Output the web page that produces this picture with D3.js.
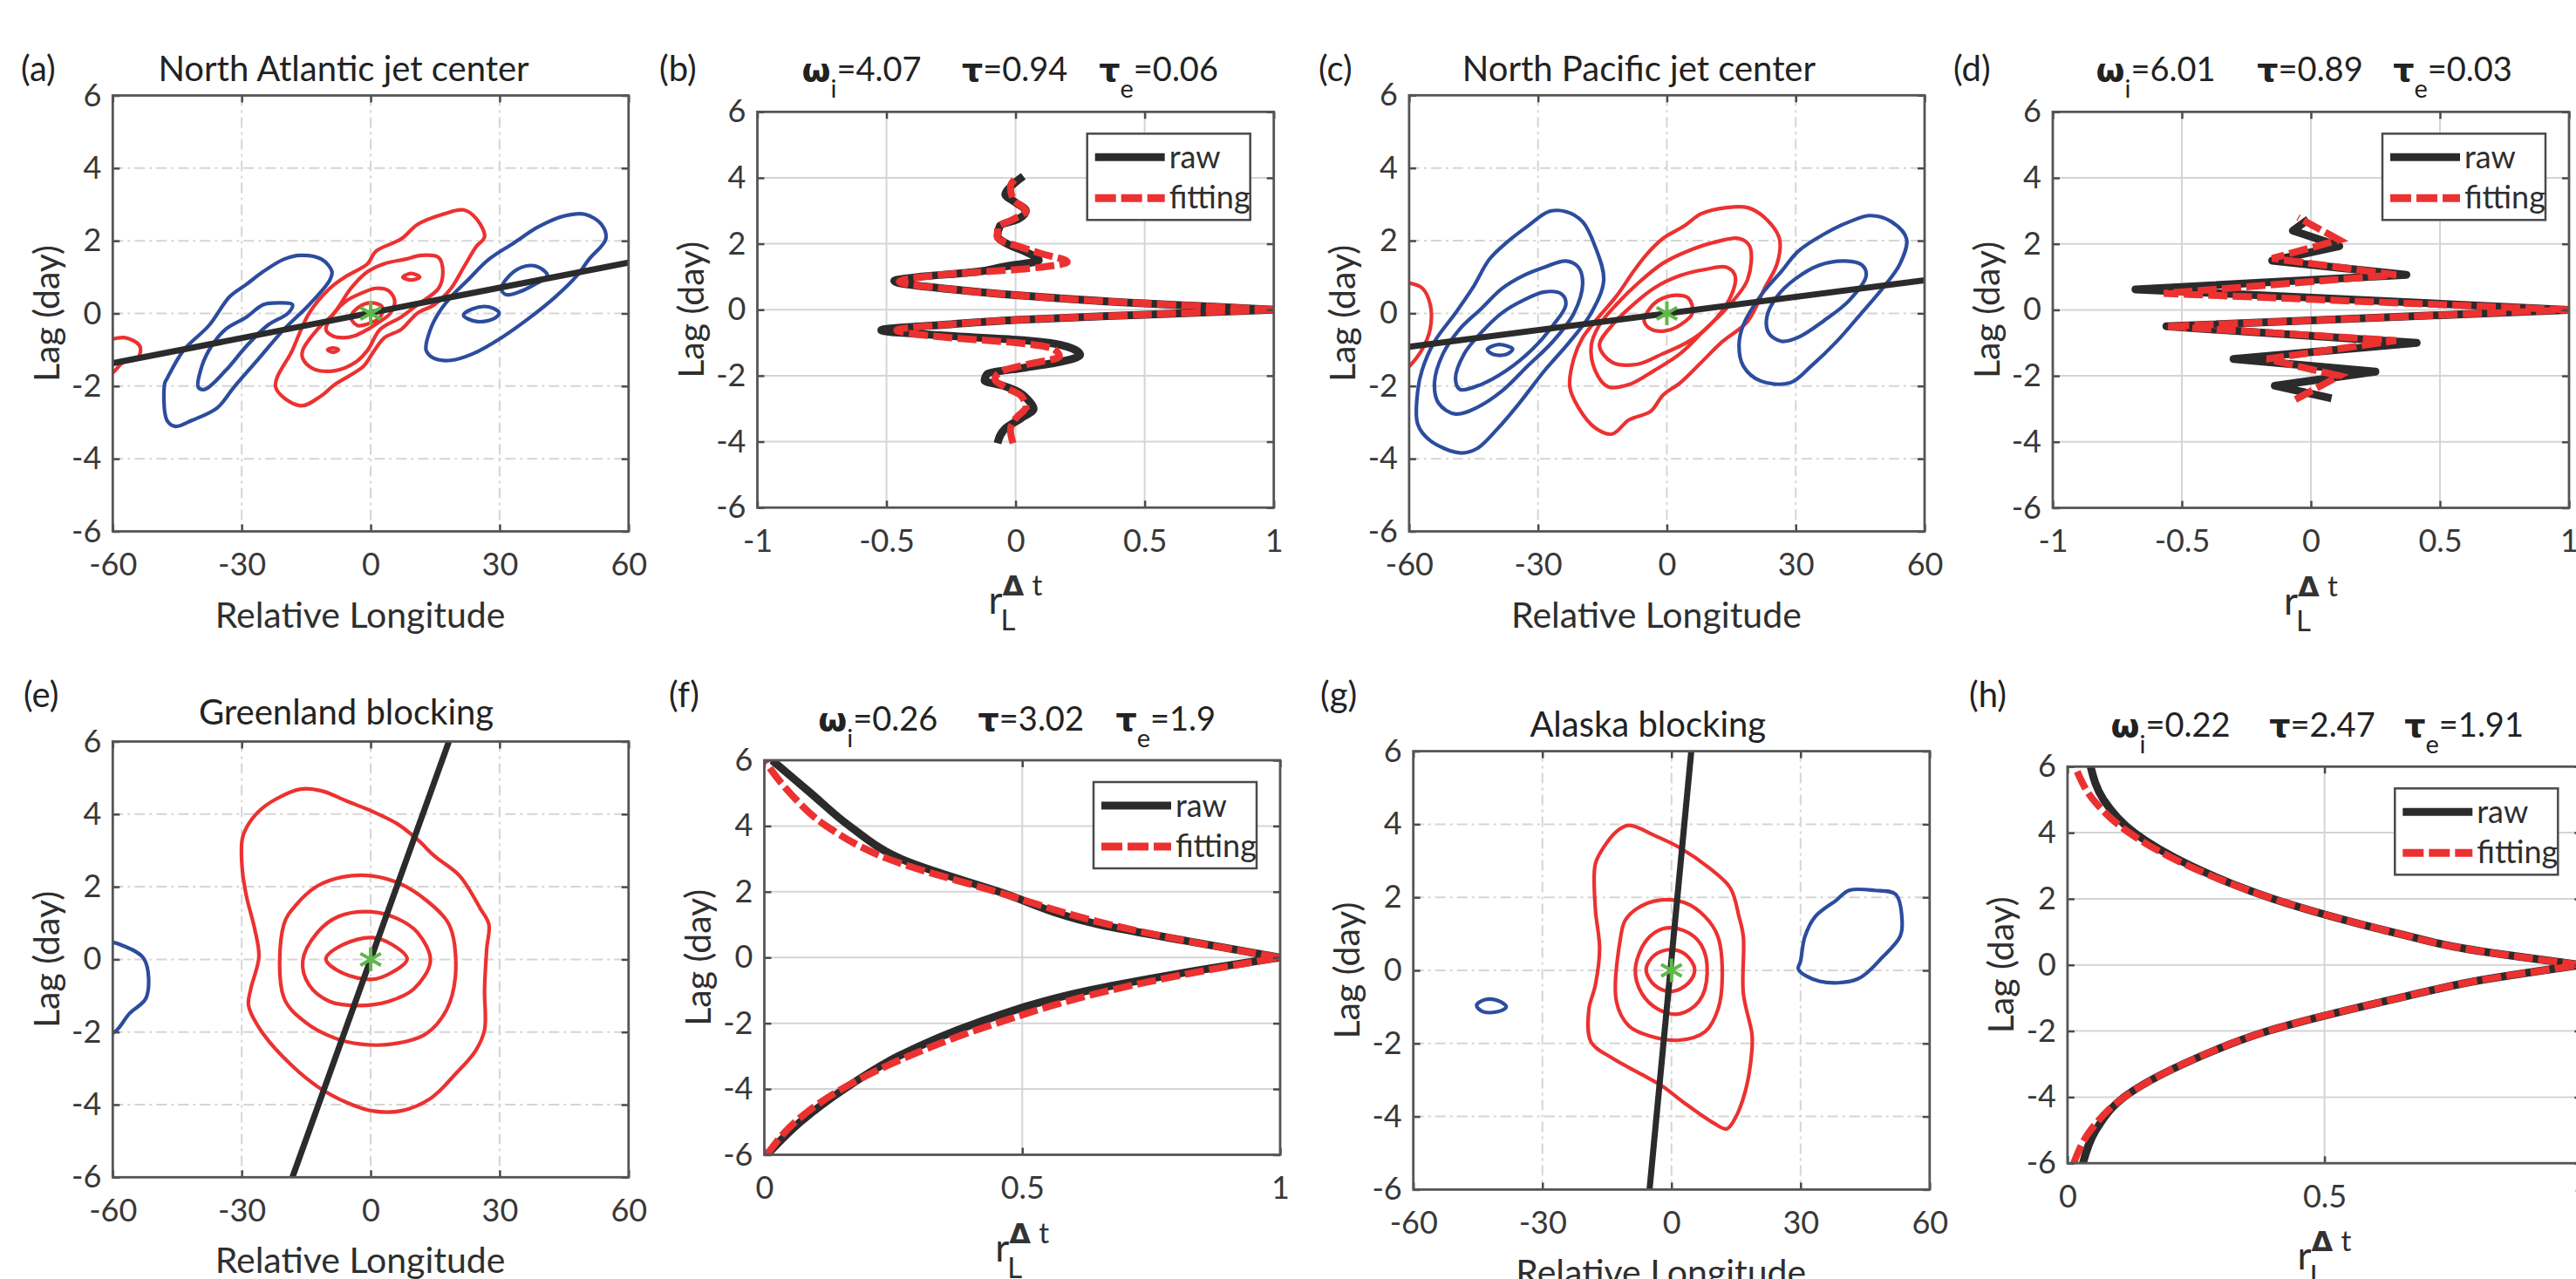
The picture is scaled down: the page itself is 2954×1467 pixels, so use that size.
<!DOCTYPE html>
<html lang="en">
<head>
<meta charset="utf-8">
<title>Lagged correlation of jets and blocking</title>
<script src="https://cdn.jsdelivr.net/npm/d3@7/dist/d3.min.js"></script>
<style>
  body { margin:0; background:#fff; overflow:hidden; }
  text { font-family: Lato, "Open Sans", sans-serif; fill:#2e2e2e; }
  .greek { font-family: "DejaVu Sans", sans-serif; font-weight:bold; fill:#222; }
</style>
</head>
<body>
<script>
// ---- values ----
var panelLetters = ["(a)", "(b)", "(c)", "(d)", "(e)", "(f)", "(g)", "(h)"];
var mapTitles = ["North Atlantic jet center", "North Pacific jet center", "Greenland blocking", "Alaska blocking"];
var lonTicks = [-60, -30, 0, 30, 60];
var lagTicks = [-6, -4, -2, 0, 2, 4, 6];
var rTicksWide = [-1, -0.5, 0, 0.5, 1];
var rTicksHalf = [0, 0.5, 1];
var omegaI = ["4.07", "6.01", "0.26", "0.22"];
var tauVals = ["0.94", "0.89", "3.02", "2.47"];
var tauE = ["0.06", "0.03", "1.9", "1.91"];
var legendNames = ["raw", "fitting"];

// contours, points are [relative longitude, lag]
var atlPos = [
  [[-22.1,-2.03],[-18.2,-1.01],[-14.3,0.01],[-9.5,0.69],[-5.6,1.03],[-0.7,1.37],[1.2,1.71],[7.1,2.05],[10.9,2.45],[16.8,2.73],[21.6,2.85],[24.5,2.62],[26.5,2.11],[24.5,1.83],[21.6,1.26],[18.7,0.69],[14.8,0.24],[10.9,0.01],[7.1,-0.44],[3.2,-0.67],[0.3,-1.12],[-1.7,-1.46],[-8.5,-1.97],[-11.4,-2.26],[-16.3,-2.54]],
  [[-15.8,-1.01],[-12.4,-0.44],[-8.5,0.01],[-4.6,0.69],[-0.7,1.15],[3.2,1.37],[8.0,1.49],[11.9,1.6],[15.8,1.54],[16.8,1.15],[15.8,0.69],[10.9,0.24],[7.1,-0.1],[2.2,-0.44],[-0.7,-1.01],[-3.6,-1.35],[-8.5,-1.58],[-13.4,-1.52],[-15.8,-1.24]],
  [[-10.4,-0.44],[-8.5,0.01],[-5.6,0.35],[-1.7,0.58],[1.2,0.69],[4.1,0.63],[5.6,0.35],[4.6,0.01],[2.2,-0.22],[-0.7,-0.44],[-3.6,-0.61],[-6.5,-0.67],[-9.0,-0.61]],
  [[-4.6,-0.1],[-2.7,0.18],[0.3,0.29],[2.7,0.18],[2.2,-0.1],[-0.2,-0.27],[-3.1,-0.33]],
  [[7.5,1.0],[9.4,1.1],[11.4,1.0],[9.4,0.92]],
  [[-10,-1.0],[-8.7,-0.95],[-7.5,-1.0],[-8.7,-1.07]]
];
var atlPosOpen = [
  [[-61,-0.74],[-57.1,-0.67],[-53.7,-0.9],[-54.2,-1.24],[-57.6,-1.35],[-59.5,-1.58],[-61,-1.75]]
];
var atlNeg = [
  [[-47.9,-1.92],[-47.4,-2.94],[-45.4,-3.11],[-41.5,-2.94],[-35.7,-2.6],[-31.8,-2.03],[-26.0,-1.24],[-20.2,-0.44],[-14.3,0.24],[-9.5,0.92],[-9.0,1.15],[-11.4,1.49],[-16.3,1.6],[-20.2,1.49],[-25.0,1.15],[-28.9,0.8],[-32.8,0.46],[-37.6,-0.33],[-43.5,-1.01],[-47.4,-1.8]],
  [[-40.1,-2.03],[-38.6,-2.09],[-33.8,-1.58],[-28.9,-0.9],[-24.0,-0.33],[-19.2,0.01],[-18.2,0.24],[-21.1,0.29],[-25.0,0.24],[-28.9,-0.1],[-33.8,-0.44],[-37.6,-1.01],[-39.6,-1.58]],
  [[12.9,-1.01],[14.8,-1.24],[18.7,-1.29],[23.6,-1.12],[30.4,-0.67],[37.2,-0.1],[43.0,0.46],[47.9,1.03],[50.8,1.49],[54.7,2.05],[53.7,2.45],[49.8,2.73],[45.0,2.68],[39.1,2.39],[33.3,1.94],[27.5,1.49],[22.6,0.92],[18.7,0.46],[15.8,0.01],[13.9,-0.44]],
  [[30.4,0.69],[33.3,1.15],[37.2,1.32],[40.1,1.2],[41.1,1.03],[38.2,0.8],[34.3,0.58],[31.4,0.52]],
  [[21.6,-0.05],[23.6,0.12],[27.5,0.18],[29.9,0.01],[28.4,-0.16],[24.5,-0.22]]
];
var atlTrend = [[-60,-1.37],[60,1.4]];

var pacPos = [
  [[-22.6,-2.02],[-20.6,-2.59],[-16.7,-3.15],[-12.7,-3.32],[-8.8,-2.93],[-3.8,-2.7],[-0.9,-2.25],[3.1,-1.91],[8.0,-1.35],[12.9,-0.78],[18.8,-0.22],[22.8,0.7],[25.7,1.38],[26.2,2.06],[22.8,2.63],[18.8,2.91],[13.9,2.91],[8.0,2.74],[4.0,2.4],[-0.9,2.06],[-4.8,1.61],[-7.8,1.15],[-11.7,0.48],[-16.7,-0.22],[-19.6,-0.67],[-21.6,-1.22]],
  [[-17.6,-0.88],[-16.7,-1.57],[-13.7,-2.02],[-8.8,-1.96],[-2.9,-1.57],[3.1,-1.11],[9.0,-0.43],[13.9,0.14],[18.8,0.93],[19.3,1.84],[16.8,2.06],[10.9,1.95],[5.0,1.72],[-0.9,1.38],[-6.8,0.82],[-11.7,0.25],[-15.7,-0.32]],
  [[-15.7,-0.88],[-12.7,-1.35],[-6.8,-1.4],[-0.9,-1.11],[5.0,-0.78],[10.0,-0.33],[14.9,0.47],[15.9,1.03],[13.9,1.27],[9.0,1.21],[3.1,1.04],[-2.9,0.7],[-8.8,0.14],[-12.7,-0.32]],
  [[-5.3,-0.2],[-3.8,-0.43],[-0.9,-0.49],[3.1,-0.32],[6.0,0.02],[5.0,0.42],[2.1,0.5],[-1.9,0.36],[-4.3,0.08]]
];
var pacPosOpen = [
  [[-61,0.86],[-57.0,0.7],[-55.1,0.25],[-55.1,-0.43],[-57.0,-1.0],[-59.5,-1.4],[-61,-1.56]]
];
var pacNeg = [
  [[-58.0,-2.14],[-58.0,-3.05],[-55.1,-3.5],[-48.2,-3.84],[-44.2,-3.72],[-39.3,-3.16],[-34.4,-2.48],[-28.5,-1.58],[-22.6,-0.78],[-17.6,0.01],[-14.7,0.92],[-16.7,1.84],[-19.6,2.52],[-23.5,2.8],[-27.5,2.8],[-32.4,2.4],[-37.3,1.95],[-41.3,1.49],[-45.2,0.7],[-49.2,0.01],[-54.1,-0.78],[-57.0,-1.57]],
  [[-54.1,-1.91],[-53.1,-2.48],[-49.2,-2.77],[-44.2,-2.59],[-38.3,-2.13],[-32.4,-1.45],[-26.5,-0.77],[-21.6,0.01],[-19.6,0.82],[-20.6,1.27],[-23.5,1.44],[-28.5,1.27],[-33.4,1.04],[-38.3,0.69],[-43.3,0.12],[-48.2,-0.43],[-52.1,-1.11]],
  [[-49.2,-1.8],[-48.2,-2.09],[-43.3,-1.96],[-37.3,-1.57],[-31.4,-1.0],[-26.5,-0.33],[-23.5,0.24],[-24.5,0.53],[-28.5,0.59],[-33.4,0.36],[-38.3,0.02],[-43.3,-0.54],[-47.2,-1.12]],
  [[-41.8,-1.0],[-39.3,-0.86],[-35.9,-0.98],[-37.4,-1.13],[-40.4,-1.13]],
  [[16.8,-0.88],[17.8,-1.45],[21.8,-1.86],[28.7,-1.91],[33.6,-1.45],[39.5,-0.78],[45.4,0.02],[50.3,0.7],[54.3,1.37],[55.8,2.05],[52.3,2.52],[47.4,2.69],[42.5,2.52],[36.6,2.18],[30.6,1.71],[26.7,1.16],[21.8,0.48],[17.8,-0.32]],
  [[23.3,-0.09],[23.7,-0.54],[26.7,-0.77],[30.6,-0.66],[36.6,-0.2],[42.5,0.36],[46.4,1.04],[45.4,1.33],[41.5,1.44],[35.6,1.33],[29.7,0.93],[25.7,0.47]]
];
var pacTrend = [[-60,-0.92],[60,0.91]];

var grnPos = [
  [[-29.9,3.3],[-29.9,2.52],[-28.9,1.74],[-27.0,0.85],[-26.0,0.07],[-27.9,-0.82],[-28.4,-1.27],[-25.0,-2.05],[-18.2,-2.94],[-12.4,-3.5],[-5.6,-3.94],[0.3,-4.17],[7.1,-4.17],[13.9,-3.83],[19.7,-3.16],[24.5,-2.5],[26.5,-1.94],[26.5,-0.82],[27.0,0.29],[27.5,0.96],[25.5,1.4],[20.7,2.3],[14.8,2.85],[10.9,3.3],[6.1,3.74],[0.3,4.08],[-5.6,4.36],[-11.4,4.64],[-16.3,4.69],[-22.1,4.41],[-26.0,4.08],[-28.9,3.63]],
  [[-20.2,0.96],[-20.2,-1.05],[-15.3,-1.72],[-8.5,-2.16],[-2.7,-2.33],[5.1,-2.33],[12.9,-2.05],[17.7,-1.38],[19.7,-0.49],[19.2,0.62],[17.7,1.07],[12.9,1.63],[7.1,2.07],[0.3,2.3],[-6.5,2.27],[-12.4,2.02],[-17.2,1.52]],
  [[-15.8,-0.04],[-14.3,-0.71],[-9.5,-1.16],[-2.7,-1.27],[4.1,-1.16],[10.0,-0.82],[13.9,-0.04],[10.9,0.74],[6.1,1.13],[0.1,1.31],[-7.5,1.18],[-12.4,0.74]],
  [[-10.4,0.01],[-6.5,-0.38],[0.3,-0.55],[4.6,-0.38],[8.5,0.01],[5.1,0.4],[0.3,0.6],[-6.5,0.4]]
];
var grnNegOpen = [
  [[-61,0.5],[-58.1,0.4],[-52.7,0.01],[-52.2,-1.05],[-56.1,-1.49],[-59.0,-1.94],[-61,-2.1]]
];
var grnTrend = [[-18.2,-6],[18.2,6]];

var alaPos = [
  [[-17.7,2.91],[-17.7,1.7],[-16.7,0.59],[-17.7,-0.41],[-19.2,-1.07],[-18.7,-1.96],[-13.8,-2.4],[-6.9,-2.85],[-2.0,-3.18],[2.9,-3.62],[9.8,-4.18],[12.8,-4.34],[14.7,-4.07],[17.2,-3.29],[18.7,-2.18],[18.7,-1.74],[16.7,-0.63],[16.7,0.92],[15.7,1.47],[13.7,2.25],[8.8,2.8],[1.9,3.36],[-3.9,3.69],[-9.9,3.97],[-12.8,3.8],[-15.8,3.36]],
  [[-11.8,0.92],[-12.8,-0.85],[-9.9,-1.52],[-4.9,-1.8],[1.9,-1.91],[7.8,-1.68],[10.8,-1.07],[11.8,-0.19],[10.8,0.92],[7.8,1.47],[2.9,1.86],[-3.0,1.92],[-7.9,1.7],[-10.8,1.36]],
  [[-8.4,0.03],[-6.9,-0.63],[-3.0,-1.07],[1.9,-1.19],[6.4,-0.85],[8.3,-0.08],[6.9,0.7],[2.9,1.09],[-2.0,1.14],[-5.9,0.81]],
  [[-5.9,0.03],[-3.9,-0.41],[0.0,-0.58],[3.9,-0.35],[5.4,0.03],[3.4,0.42],[0.0,0.57],[-3.9,0.42]]
];
var alaNeg = [
  [[-45.3,-0.96],[-43.3,-0.8],[-40.3,-0.83],[-38.4,-1.0],[-40.3,-1.13],[-43.8,-1.13]],
  [[29.5,0.03],[34.4,-0.3],[43.2,-0.24],[49.1,0.37],[53.1,0.92],[53.6,1.36],[52.1,2.08],[47.2,2.19],[41.3,2.19],[38.3,1.92],[33.4,1.47],[31.0,0.92],[30.0,0.25]]
];
var alaTrend = [[-5.1,-6],[4.6,6]];

// lagged correlation curves: lag (day) and r
var atlRawLag = [-4.05,-3.6,-3.3,-3.0,-2.75,-2.45,-2.3,-2.15,-1.95,-1.75,-1.6,-1.37,-1.12,-0.93,-0.82,-0.62,-0.44,-0.31,-0.15,0,0.1,0.19,0.44,0.62,0.87,1.0,1.15,1.3,1.5,1.75,1.95,2.25,2.55,2.75,3.0,3.25,3.5,3.8,4.05];
var atlRaw = [-0.07,-0.04,0.02,0.07,0.05,0.0,-0.05,-0.12,-0.11,0.04,0.16,0.25,0.2,0.04,-0.2,-0.52,-0.25,0.0,0.5,1.0,0.75,0.5,0.0,-0.25,-0.47,-0.37,-0.15,-0.05,0.09,0.04,-0.02,-0.07,-0.06,0.01,0.04,0.0,-0.04,-0.01,0.03];
var atlFitLag = [-4.05,-3.65,-3.3,-2.95,-2.6,-2.35,-2.1,-1.85,-1.65,-1.42,-1.2,-1.0,-0.85,-0.62,-0.44,-0.31,-0.15,0,0.1,0.19,0.44,0.62,0.85,1.05,1.25,1.45,1.7,1.9,2.18,2.49,2.74,2.99,3.36,3.73,4.05];
var atlFit = [-0.01,-0.02,0.0,0.04,0.02,-0.04,-0.08,-0.05,0.05,0.17,0.15,0.0,-0.25,-0.46,-0.25,0.0,0.5,1.0,0.75,0.5,0.0,-0.25,-0.45,-0.3,0.05,0.2,0.1,0.02,-0.07,-0.07,-0.01,0.04,-0.01,-0.02,0.01];

var pacRawLag = [-2.68,-2.3,-1.87,-1.49,-1.0,-0.5,0,0.62,1.06,1.49,1.93,2.4,2.74];
var pacRaw = [0.08,-0.14,0.25,-0.3,0.41,-0.56,1.0,-0.68,0.37,-0.15,0.11,-0.07,-0.01];
var pacFitLag = [-2.72,-2.0,-1.49,-0.93,-0.5,0,0.5,1.06,1.56,2.12,2.8];
var pacFit = [-0.06,0.11,-0.17,0.33,-0.56,1.0,-0.57,0.33,-0.15,0.11,-0.05];

var blkLag = [-6,-5,-4,-3,-2,-1,-0.5,0,0.5,1,2,3,4,5,6];
var grnRaw = [0.005,0.07,0.155,0.26,0.41,0.63,0.8,1.0,0.82,0.65,0.455,0.265,0.165,0.09,0.015];
var grnFit = [0.005,0.06,0.15,0.28,0.45,0.67,0.82,1.0,0.82,0.67,0.45,0.24,0.12,0.05,0.0];
var alaRaw = [0.03,0.055,0.11,0.225,0.39,0.645,0.79,1.0,0.77,0.63,0.4,0.24,0.13,0.07,0.045];
var alaFit = [0.012,0.045,0.11,0.225,0.39,0.645,0.79,1.0,0.77,0.63,0.4,0.235,0.12,0.05,0.015];

// ---- page layout (pixels) ----
var W = 2954, H = 1467;
var layout = {
  a: {x0:129.3, x1:720.8, y0:109.5, y1:609.5, lx:24, ly:93, tx:-31, ty:93},
  b: {x0:868.5, x1:1460.7, y0:128.3, y1:582.2, lx:756, ly:93, ty:93, pieces:[-176.6,-1,164]},
  c: {x0:1615.9, x1:2207, y0:109.3, y1:609.5, lx:1512, ly:93, tx:-32, ty:93},
  d: {x0:2354, x1:2946, y0:128.3, y1:582.5, lx:2240, ly:93, ty:93, pieces:[-178,-1,162.5]},
  e: {x0:129.3, x1:720.8, y0:850.5, y1:1350.3, lx:27, ly:811, tx:-28, ty:830.5},
  f: {x0:876.5, x1:1468, y0:872, y1:1324.5, lx:767, ly:811, ty:837.5, pieces:[-165.5,10,164.5]},
  g: {x0:1620.7, x1:2212.8, y0:861.6, y1:1364.4, lx:1514, ly:811, tx:-27, ty:844.5},
  h: {x0:2370.9, x1:2960.3, y0:879.3, y1:1334.2, lx:2258, ly:811, ty:844.5, pieces:[-176.6,-2.6,160]}
};
var RED = "#ec3131", BLUE = "#2c4c9e", BLACK = "#2b2b2b", GREEN = "#5fb84a";

var svg = d3.select("body").append("svg").attr("width", W).attr("height", H);
var defs = svg.append("defs");

function makeScales(b, xdom) {
  return {
    x: d3.scaleLinear().domain(xdom).range([b.x0, b.x1]),
    y: d3.scaleLinear().domain([-6, 6]).range([b.y1, b.y0])
  };
}

function drawGrid(g, b, sc, xTicks, dash) {
  g.selectAll(".gx").data(xTicks.slice(1, -1)).enter().append("line").attr("class", "gx")
    .attr("x1", function(d) { return sc.x(d); }).attr("x2", function(d) { return sc.x(d); })
    .attr("y1", b.y0).attr("y2", b.y1);
  g.selectAll(".gy").data(lagTicks.slice(1, -1)).enter().append("line").attr("class", "gy")
    .attr("y1", function(d) { return sc.y(d); }).attr("y2", function(d) { return sc.y(d); })
    .attr("x1", b.x0).attr("x2", b.x1);
  g.selectAll(".gx,.gy").attr("stroke", "#d5d5d5").attr("stroke-width", 2)
    .attr("stroke-dasharray", dash);
}

function drawFrame(g, b, sc, xTicks) {
  var fmt = function(d) { return String(d); };
  var ax = g.append("g");
  ax.append("g").attr("transform", "translate(0," + b.y1 + ")")
    .call(d3.axisBottom(sc.x).tickValues(xTicks).tickFormat(fmt).tickSizeInner(-8).tickSizeOuter(0).tickPadding(25));
  ax.append("g").attr("transform", "translate(" + b.x0 + ",0)")
    .call(d3.axisLeft(sc.y).tickValues(lagTicks).tickFormat(fmt).tickSizeInner(-8).tickSizeOuter(0).tickPadding(13));
  ax.append("g").attr("transform", "translate(0," + b.y0 + ")")
    .call(d3.axisTop(sc.x).tickValues(xTicks).tickFormat(function() { return ""; }).tickSizeInner(-8).tickSizeOuter(0));
  ax.append("g").attr("transform", "translate(" + b.x1 + ",0)")
    .call(d3.axisRight(sc.y).tickValues(lagTicks).tickFormat(function() { return ""; }).tickSizeInner(-8).tickSizeOuter(0));
  ax.selectAll(".domain").remove();
  ax.selectAll(".tick line").attr("stroke", "#4a4a4a").attr("stroke-width", 2.5);
  ax.selectAll(".tick text").attr("font-size", 36).style("fill", "#383838");
  g.append("rect").attr("x", b.x0).attr("y", b.y0)
    .attr("width", b.x1 - b.x0).attr("height", b.y1 - b.y0)
    .attr("fill", "none").attr("stroke", "#555").attr("stroke-width", 2.8);
}

function yLabel(g, b) {
  g.append("text")
    .attr("transform", "translate(" + (b.x0 - 77) + "," + ((b.y0 + b.y1) / 2) + ") rotate(-90)")
    .attr("text-anchor", "middle").attr("dominant-baseline", "central")
    .attr("font-size", 41).text("Lag (day)");
}

function addClip(key, b) {
  defs.append("clipPath").attr("id", "clip-" + key).append("rect")
    .attr("x", b.x0).attr("y", b.y0).attr("width", b.x1 - b.x0).attr("height", b.y1 - b.y0);
}

function mapPanel(key, idx, letter, pos, posOpen, neg, negOpen, trend) {
  var b = layout[key], sc = makeScales(b, [-60, 60]);
  var g = svg.append("g");
  drawGrid(g, b, sc, lonTicks, "12,5,3,5");
  addClip(key, b);
  var plot = g.append("g").attr("clip-path", "url(#clip-" + key + ")");

  var ring = d3.line().x(function(d) { return sc.x(d[0]); }).y(function(d) { return sc.y(d[1]); })
    .curve(d3.curveCatmullRomClosed.alpha(0.5));
  var open = d3.line().x(function(d) { return sc.x(d[0]); }).y(function(d) { return sc.y(d[1]); })
    .curve(d3.curveCatmullRom.alpha(0.5));

  [[pos, ring, RED], [posOpen, open, RED], [neg, ring, BLUE], [negOpen, open, BLUE]].forEach(function(set) {
    plot.append("g").selectAll("path").data(set[0]).enter().append("path")
      .attr("d", set[1]).attr("fill", "none").attr("stroke", set[2])
      .attr("stroke-width", 4.2).attr("stroke-linejoin", "round");
  });

  plot.append("path").datum(trend)
    .attr("d", d3.line().x(function(d) { return sc.x(d[0]); }).y(function(d) { return sc.y(d[1]); }))
    .attr("fill", "none").attr("stroke", BLACK).attr("stroke-width", 7);

  var star = d3.symbol().type(d3.symbolAsterisk || d3.symbolCross).size(520);
  plot.append("path").attr("d", star())
    .attr("transform", "translate(" + sc.x(0) + "," + sc.y(0) + ")")
    .attr("fill", "none").attr("stroke", GREEN).attr("stroke-width", 4);

  drawFrame(g, b, sc, lonTicks);
  yLabel(g, b);
  g.append("text").attr("x", b.lx).attr("y", b.ly).attr("font-size", 40).style("fill", "#222")
    .text(panelLetters[letter]);
  g.append("text").attr("x", (b.x0 + b.x1) / 2 + b.tx).attr("y", b.ty)
    .attr("text-anchor", "middle").attr("font-size", 40).style("fill", "#222")
    .text(mapTitles[idx]);
  g.append("text").attr("x", (b.x0 + b.x1) / 2 - 12).attr("y", b.y1 + 110)
    .attr("text-anchor", "middle").attr("font-size", 41).text("Relative Longitude");
}

function corrPanel(key, idx, letter, xTicks, rawLag, raw, fitLag, fit, curve) {
  var b = layout[key], sc = makeScales(b, [xTicks[0], xTicks[xTicks.length - 1]]);
  var g = svg.append("g");
  drawGrid(g, b, sc, xTicks, null);
  addClip(key, b);
  var plot = g.append("g").attr("clip-path", "url(#clip-" + key + ")");

  var line = d3.line().x(function(d) { return sc.x(d[1]); }).y(function(d) { return sc.y(d[0]); })
    .curve(curve);
  function branches(lags, vals) {
    var pts = d3.zip(lags, vals);
    return [pts.filter(function(p) { return p[0] <= 0; }), pts.filter(function(p) { return p[0] >= 0; })];
  }
  plot.append("g").selectAll("path").data(branches(rawLag, raw)).enter().append("path")
    .attr("d", line).attr("fill", "none").attr("stroke", BLACK)
    .attr("stroke-width", 9).attr("stroke-linejoin", "round");
  plot.append("g").selectAll("path").data(branches(fitLag, fit)).enter().append("path")
    .attr("d", line).attr("fill", "none").attr("stroke", RED)
    .attr("stroke-width", 8).attr("stroke-dasharray", "22,6");

  drawFrame(g, b, sc, xTicks);
  yLabel(g, b);

  // legend
  var lx = b.x1 - 27 - 187, ly = b.y0 + 25;
  var lg = g.append("g");
  lg.append("rect").attr("x", lx).attr("y", ly).attr("width", 187).attr("height", 99)
    .attr("fill", "#fff").attr("stroke", "#4a4a4a").attr("stroke-width", 2.5);
  lg.append("line").attr("x1", lx + 9).attr("x2", lx + 89).attr("y1", ly + 27).attr("y2", ly + 27)
    .attr("stroke", BLACK).attr("stroke-width", 9);
  lg.append("line").attr("x1", lx + 9).attr("x2", lx + 89).attr("y1", ly + 74).attr("y2", ly + 74)
    .attr("stroke", RED).attr("stroke-width", 9).attr("stroke-dasharray", "24,6");
  lg.selectAll("text").data(legendNames).enter().append("text")
    .attr("x", lx + 94).attr("y", function(d, i) { return ly + 40 + i * 46; })
    .attr("font-size", 36).text(function(d) { return d; });

  // fitted parameters
  var cx = (b.x0 + b.x1) / 2;
  var p1 = g.append("text").attr("x", cx + b.pieces[0]).attr("y", b.ty)
    .attr("text-anchor", "middle").attr("font-size", 38).style("fill", "#222");
  p1.append("tspan").attr("class", "greek").text("ω");
  p1.append("tspan").attr("dy", 19).attr("font-size", 29).text("i");
  p1.append("tspan").attr("dy", -19).text("=" + omegaI[idx]);
  var p2 = g.append("text").attr("x", cx + b.pieces[1]).attr("y", b.ty)
    .attr("text-anchor", "middle").attr("font-size", 38).style("fill", "#222");
  p2.append("tspan").attr("class", "greek").text("τ");
  p2.append("tspan").text("=" + tauVals[idx]);
  var p3 = g.append("text").attr("x", cx + b.pieces[2]).attr("y", b.ty)
    .attr("text-anchor", "middle").attr("font-size", 38).style("fill", "#222");
  p3.append("tspan").attr("class", "greek").text("τ");
  p3.append("tspan").attr("dy", 19).attr("font-size", 29).text("e");
  p3.append("tspan").attr("dy", -19).text("=" + tauE[idx]);

  g.append("text").attr("x", b.lx).attr("y", b.ly).attr("font-size", 40).style("fill", "#222")
    .text(panelLetters[letter]);

  // x label r_L^(delta t)
  g.append("text").attr("x", cx - 31).attr("y", b.y1 + 122).attr("font-size", 44).text("r");
  g.append("text").attr("x", cx - 15).attr("y", b.y1 + 101).attr("class", "greek")
    .attr("font-size", 32).style("fill", "#333").text("Δ");
  g.append("text").attr("x", cx + 19).attr("y", b.y1 + 101).attr("font-size", 33).text("t");
  g.append("text").attr("x", cx - 17).attr("y", b.y1 + 141).attr("font-size", 33).text("L");
}

mapPanel("a", 0, 0, atlPos, atlPosOpen, atlNeg, [], atlTrend);
corrPanel("b", 0, 1, rTicksWide, atlRawLag, atlRaw, atlFitLag, atlFit, d3.curveMonotoneY);
mapPanel("c", 1, 2, pacPos, pacPosOpen, pacNeg, [], pacTrend);
corrPanel("d", 1, 3, rTicksWide, pacRawLag, pacRaw, pacFitLag, pacFit, d3.curveLinear);
mapPanel("e", 2, 4, grnPos, [], [], grnNegOpen, grnTrend);
corrPanel("f", 2, 5, rTicksHalf, blkLag, grnRaw, blkLag, grnFit, d3.curveMonotoneY);
mapPanel("g", 3, 6, alaPos, [], alaNeg, [], alaTrend);
corrPanel("h", 3, 7, rTicksHalf, blkLag, alaRaw, blkLag, alaFit, d3.curveMonotoneY);
</script>
</body>
</html>
